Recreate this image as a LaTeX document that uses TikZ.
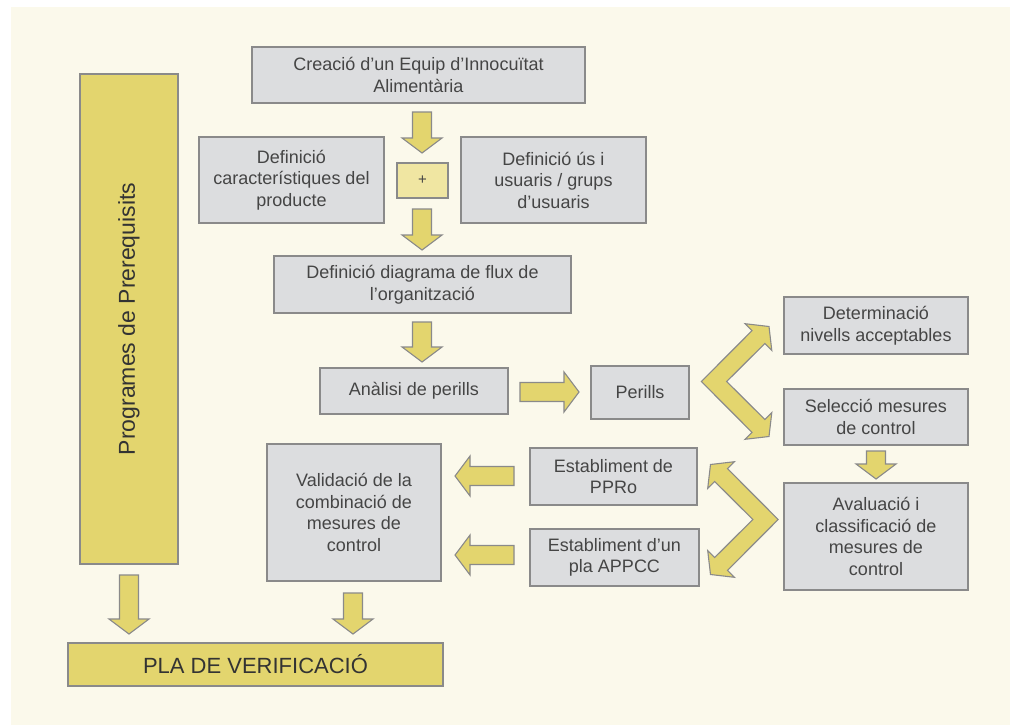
\documentclass[tikz,border=0pt]{standalone}
\usepackage{fontspec}
\setmainfont{Liberation Sans}
\usetikzlibrary{positioning}
\definecolor{bgcream}{HTML}{FBF9EB}
\definecolor{boxfill}{HTML}{DCDDDF}
\definecolor{boxline}{HTML}{8A8A8A}
\definecolor{ochre}{HTML}{E3D56E}
\definecolor{paleochre}{HTML}{F0E6A2}
\definecolor{inkgray}{HTML}{454545}
\tikzset{
        % Grey stage boxes
        stage/.style={draw=boxline, fill=boxfill, line width=1.5pt, text=inkgray, align=center, inner sep=0pt, font=\fontsize{18}{21.5}\selectfont},
        % Yellow boxes
        stage_main/.style={stage, fill=ochre, text=black!80},
        % Plus box
        stage_plus/.style={stage, fill=paleochre, font=\fontsize{15}{17}\selectfont},
        % Block arrows
        blockarrow/.style={draw=boxline, fill=ochre, line width=1.1pt, line join=miter}
}
% straight block arrow: start, angle, length
\newcommand{\fatarrow}[3]{\draw[blockarrow, shift={(#1)}, rotate=#2] (0,-9.5) -- ({#3-15},-9.5) -- ({#3-15},-20) -- (#3,0) -- ({#3-15},20) -- ({#3-15},9.5) -- (0,9.5) -- cycle;}
% V shaped double arrow: vertex, angle
\newcommand{\chevron}[2]{\draw[blockarrow, shift={(#1)}, rotate=#2] (-12.7,0) -- (38.0,50.8) -- (31.0,57.8) -- (55,55) -- (57.8,31.0) -- (50.8,38.0) -- (12.7,0) -- (50.8,-38.0) -- (57.8,-31.0) -- (55,-55) -- (31.0,-57.8) -- (38.0,-50.8) -- cycle;}

\begin{document}
\begin{tikzpicture}[x=1pt, y=-1pt]
            \useasboundingbox (0,0) rectangle (1010,725);
            \fill[white] (0,0) rectangle (1010,725);
            \fill[bgcream] (11,7) rectangle (1010,725);

            % Boxes
            \node[stage_main, rotate=90, minimum width=490pt, minimum height=98pt, font=\fontsize{23}{27}\selectfont] (prog) at (129,319) {Programes de Prerequisits};
            \node[stage, minimum width=333pt, minimum height=56pt] (equip) at (418.5,75) {Creació d’un Equip d’Innocuïtat\\Alimentària};
            \node[stage, minimum width=185pt, minimum height=86pt] (producte) at (291.5,180) {Definició\\característiques del\\producte};
            \node[stage_plus, minimum width=51pt, minimum height=35pt] (plus) at (422.5,180.5) {+};
            \node[stage, minimum width=185pt, minimum height=86pt] (usuaris) at (553.5,180) {Definició ús i\\usuaris / grups\\d’usuaris};
            \node[stage, minimum width=297pt, minimum height=57pt] (flux) at (422.5,284.5) {Definició diagrama de flux de\\l’organització};
            \node[stage, minimum width=188pt, minimum height=46pt] (analisi) at (414,391) {Anàlisi de perills};
            \node[stage, minimum width=98pt, minimum height=53pt] (perills) at (640,392.5) {Perills};
            \node[stage, minimum width=184pt, minimum height=57pt] (nivells) at (876,325.5) {Determinació\\nivells acceptables};
            \node[stage, minimum width=184pt, minimum height=56pt] (seleccio) at (876,417) {Selecció mesures\\de control};
            \node[stage, minimum width=184pt, minimum height=107pt] (avaluacio) at (876,536.5) {Avaluació i\\classificació de\\mesures de\\control};
            \node[stage, minimum width=167pt, minimum height=57pt] (ppro) at (613.5,476.5) {Establiment de\\PPRo};
            \node[stage, minimum width=169pt, minimum height=57pt] (appcc) at (614.5,557.5) {Establiment d’un\\pla APPCC};
            \node[stage, minimum width=174pt, minimum height=137pt] (validacio) at (354,512.5) {Validació de la\\combinació de\\mesures de\\control};
            \node[stage_main, minimum width=375pt, minimum height=43pt, font=\fontsize{22}{26}\selectfont] (verif) at (255.5,664.5) {PLA DE VERIFICACIÓ};

            % Arrow starts
            \coordinate (a_equip) at (422,112);
            \coordinate (a_plus) at (422,209);
            \coordinate (a_flux) at (422,322);
            \coordinate (a_analisi) at (520,392);
            \coordinate (a_seleccio) at (876,451);
            \coordinate (a_ppro) at (514,476);
            \coordinate (a_appcc) at (514,555);
            \coordinate (a_prog) at (129,575);
            \coordinate (a_validacio) at (353,593);
            \coordinate (v_perills) at (714,381.5);
            \coordinate (v_avaluacio) at (765.5,519.5);

            \fatarrow{a_equip}{-90}{41}
            \fatarrow{a_plus}{-90}{41}
            \fatarrow{a_flux}{-90}{40}
            \fatarrow{a_analisi}{0}{59}
            \fatarrow{a_seleccio}{-90}{28}
            \fatarrow{a_ppro}{180}{59}
            \fatarrow{a_appcc}{180}{59}
            \fatarrow{a_prog}{-90}{59}
            \fatarrow{a_validacio}{-90}{41}
            \chevron{v_perills}{0}
            \chevron{v_avaluacio}{180}
        \end{tikzpicture}
\end{document}
